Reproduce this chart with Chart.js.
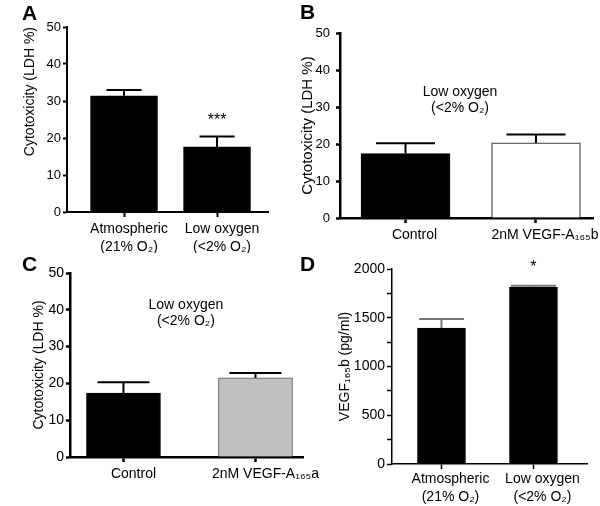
<!DOCTYPE html>
<html>
<head>
<meta charset="utf-8">
<script src="https://cdn.jsdelivr.net/npm/chart.js@4.4.1/dist/chart.umd.min.js"></script>
<style>
  body { margin: 0; background: #fff; width: 600px; height: 506px; position: relative; overflow: hidden;
         font-family: "Liberation Sans", Arial, Helvetica, sans-serif; }
  canvas { position: absolute; }
  .letter { position: absolute; font-weight: bold; font-size: 21px; line-height: 21px; color: #000; }
</style>
</head>
<body>
<canvas id="chartA" width="300" height="253" style="left:0;top:0"></canvas>
<canvas id="chartB" width="300" height="253" style="left:300px;top:0"></canvas>
<canvas id="chartC" width="330" height="253" style="left:0;top:253px"></canvas>
<canvas id="chartD" width="300" height="253" style="left:300px;top:253px"></canvas>
<div class="letter" style="left:22px;top:2px">A</div>
<div class="letter" style="left:300px;top:1px">B</div>
<div class="letter" style="left:22px;top:253px">C</div>
<div class="letter" style="left:300px;top:253px">D</div>
<script>
// categories
const oxygenGroups = [['Atmospheric', '(21% O₂)'], ['Low oxygen', '(<2% O₂)']];
const groupsB = ['Control', '2nM VEGF-A₁₆₅b'];
const groupsC = ['Control', '2nM VEGF-A₁₆₅a'];

// values (mean and upper error)
const cytoA = [31.4, 17.6];
const cytoAErr = [1.6, 2.8];
const cytoB = [17.4, 20.3];
const cytoBErr = [2.8, 2.3];
const cytoC = [17.4, 21.5];
const cytoCErr = [2.9, 1.3];
const vegfD = [1395, 1812];
const vegfDErr = [92, 17];

// tick labels
const cytoTicks = [0, 10, 20, 30, 40, 50];
const vegfTickMarks = [0, 250, 500, 750, 1000, 1250, 1500, 1750, 2000];
const vegfTickLabels = [0, 500, 1000, 1500, 2000];

const FONT = '"Liberation Sans", Arial, Helvetica, sans-serif';
Chart.defaults.font.family = FONT;
Chart.defaults.color = '#000';

function errorBarPlugin(errors, color, cap, width) {
    return {
        id: 'errorBars',
        afterDatasetsDraw(chart) {
            const ctx = chart.ctx;
            const yScale = chart.scales.y;
            const ds = chart.data.datasets[0];
            chart.getDatasetMeta(0).data.forEach((bar, i) => {
                const top = yScale.getPixelForValue(ds.data[i].y + errors[i]);
                ctx.save();
                ctx.strokeStyle = color;
                ctx.lineWidth = width;
                ctx.beginPath();
                ctx.moveTo(bar.x, bar.y);
                ctx.lineTo(bar.x, top);
                ctx.moveTo(bar.x - cap / 2, top);
                ctx.lineTo(bar.x + cap / 2, top);
                ctx.stroke();
                ctx.restore();
            });
        }
    };
}

function notePlugin(notes) {
    return {
        id: 'notes',
        afterDraw(chart) {
            const ctx = chart.ctx;
            notes.forEach(n => {
                const px = chart.scales.x.getPixelForValue(n.x);
                const py = chart.scales.y.getPixelForValue(n.y);
                ctx.save();
                ctx.fillStyle = '#000';
                ctx.font = n.size + 'px ' + FONT;
                ctx.textAlign = 'center';
                ctx.textBaseline = 'middle';
                n.lines.forEach((t, k) => ctx.fillText(t, px, py + k * n.gap));
                ctx.restore();
            });
        }
    };
}

function makePanel(id, p) {
    return new Chart(document.getElementById(id), {
        type: 'bar',
        data: {
            datasets: [{
                data: p.values.map((v, i) => ({ x: i, y: v })),
                backgroundColor: p.fill,
                borderColor: p.edge,
                borderWidth: p.edgeWidth,
                borderSkipped: 'bottom',
                barThickness: p.barWidth
            }]
        },
        options: {
            responsive: false,
            animation: false,
            devicePixelRatio: 1,
            layout: { padding: p.padding },
            plugins: { legend: { display: false }, tooltip: { enabled: false } },
            scales: {
                x: {
                    type: 'linear', bounds: 'data', min: p.xMin, max: p.xMax, offset: false,
                    afterFit: s => { s.height = p.xHeight; },
                    afterBuildTicks: s => { s.ticks = p.labels.map((_, i) => ({ value: i })); },
                    border: { color: '#000', width: p.axisWidth },
                    grid: { offset: false, drawOnChartArea: false, drawTicks: true, tickLength: 5,
                            tickColor: '#000', tickWidth: p.axisWidth },
                    ticks: { color: '#000', font: { size: 14, lineHeight: 1.3 }, padding: p.xPad,
                             labelOffset: p.labelOffset, maxRotation: 0, autoSkip: false,
                             callback: v => p.labels[v] }
                },
                y: {
                    min: 0, max: p.yMax,
                    afterFit: s => { s.width = p.yWidth; },
                    afterBuildTicks: s => { s.ticks = p.tickMarks.map(v => ({ value: v })); },
                    border: { color: '#000', width: p.axisWidth },
                    grid: { drawOnChartArea: false, drawTicks: true, tickLength: p.yTick,
                            tickColor: '#000', tickWidth: p.axisWidth },
                    ticks: { color: '#000', font: { size: p.yFont }, padding: p.yPad,
                             callback: v => p.tickLabels.includes(v) ? String(v) : '' },
                    title: { display: true, text: p.title, color: '#000', align: p.titleAlign,
                             font: { size: p.titleFont, lineHeight: p.titleLine || 1.2 },
                             padding: { top: p.titlePad, bottom: 0 } }
                }
            }
        },
        plugins: [errorBarPlugin(p.errors, p.errColor, p.cap, 2), notePlugin(p.notes)]
    });
}

// A: cytotoxicity, atmospheric vs low oxygen
makePanel('chartA', {
    labels: oxygenGroups, values: cytoA, errors: cytoAErr,
    fill: ['#000', '#000'], edge: '#000', edgeWidth: 1, barWidth: 67,
    errColor: '#000', cap: 35, axisWidth: 2,
    padding: { left: 0, top: 27, right: 32, bottom: 0 }, yWidth: 67, xHeight: 41,
    xMin: -0.613, xMax: 1.548, xPad: 3, labelOffset: 5,
    yMax: 50, tickMarks: cytoTicks, tickLabels: cytoTicks, yFont: 13, yTick: 4, yPad: 2,
    title: 'Cytotoxicity (LDH %)', titleFont: 14, titlePad: 22, titleAlign: 'end',
    notes: [{ x: 1, y: 24.6, lines: ['***'], size: 16, gap: 0 }]
});

// B: low oxygen, control vs VEGF-A165b
makePanel('chartB', {
    labels: groupsB, values: cytoB, errors: cytoBErr,
    fill: ['#000', '#fff'], edge: ['#000', '#666'], edgeWidth: 1.5, barWidth: 89,
    errColor: '#000', cap: 59, axisWidth: 2.5,
    padding: { left: 0, top: 33, right: 7, bottom: 0 }, yWidth: 40, xHeight: 35,
    xMin: -0.502, xMax: 1.437, xPad: 3, labelOffset: 9,
    yMax: 50, tickMarks: cytoTicks, tickLabels: cytoTicks, yFont: 13, yTick: 4, yPad: 6,
    title: 'Cytotoxicity (LDH %)', titleFont: 15, titleLine: 1.0, titlePad: 0, titleAlign: 'center',
    notes: [{ x: 0.418, y: 34.05, lines: ['Low oxygen', '(<2% O₂)'], size: 14, gap: 16 }]
});

// C: low oxygen, control vs VEGF-A165a
makePanel('chartC', {
    labels: groupsC, values: cytoC, errors: cytoCErr,
    fill: ['#000', '#c0c0c0'], edge: ['#000', '#555'], edgeWidth: 1, barWidth: 74,
    errColor: '#000', cap: 52, axisWidth: 2.5,
    padding: { left: 0, top: 20, right: 27, bottom: 0 }, yWidth: 70, xHeight: 49,
    xMin: -0.405, xMax: 1.36, xPad: 3, labelOffset: 10,
    yMax: 50, tickMarks: cytoTicks, tickLabels: cytoTicks, yFont: 14, yTick: 4, yPad: 2,
    title: 'Cytotoxicity (LDH %)', titleFont: 14, titlePad: 31, titleAlign: 'center',
    notes: [{ x: 0.473, y: 41.3, lines: ['Low oxygen', '(<2% O₂)'], size: 14, gap: 16 }]
});

// D: VEGF165b concentration
makePanel('chartD', {
    labels: oxygenGroups, values: vegfD, errors: vegfDErr,
    fill: ['#000', '#000'], edge: '#000', edgeWidth: 1, barWidth: 48,
    errColor: '#777', cap: 45, axisWidth: 1.5,
    padding: { left: 0, top: 16, right: 13, bottom: 0 }, yWidth: 92, xHeight: 42,
    xMin: -0.538, xMax: 1.582, xPad: 1, labelOffset: 9,
    yMax: 2000, tickMarks: vegfTickMarks, tickLabels: vegfTickLabels, yFont: 14, yTick: 5, yPad: 2,
    title: 'VEGF₁₆₅b (pg/ml)', titleFont: 14, titlePad: 36.6, titleAlign: 'center',
    notes: [{ x: 1, y: 2010, lines: ['*'], size: 16, gap: 0 }]
});
</script>
</body>
</html>
